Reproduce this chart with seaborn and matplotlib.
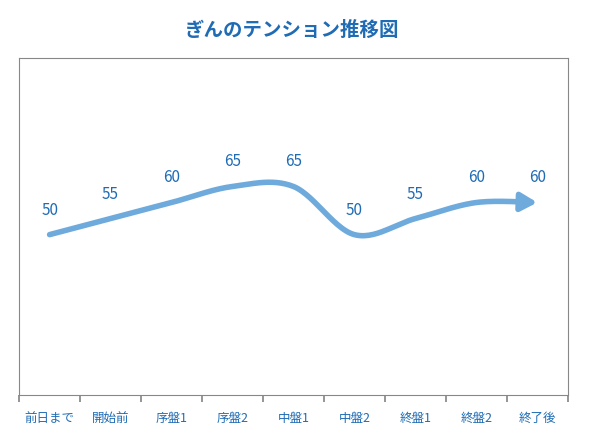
import matplotlib
matplotlib.use("Agg")
import matplotlib.pyplot as plt
import numpy as np
import seaborn as sns

stages = ["前日まで", "開始前", "序盤1", "序盤2", "中盤1", "中盤2", "終盤1", "終盤2", "終了後"]
tension = [50, 55, 60, 65, 65, 50, 55, 60, 60]

sns.set_theme(style="white")
plt.rcParams["font.family"] = ["Noto Sans CJK JP", "DejaVu Sans"]

LINE = "#6FAADC"
TEXT = "#1F6CB5"

fig = plt.figure(figsize=(5.97, 4.4), dpi=100)
ax = fig.add_axes([0.032, 0.102, 0.919, 0.766])

x = np.arange(len(stages)) + 0.5
y = np.array(tension, dtype=float)

# Catmull-Rom smoothing between the points
px = np.concatenate([[x[0]], x, [x[-1]]])
py = np.concatenate([[y[0]], y, [y[-1]]])
xs, ys = [], []
t = np.linspace(0, 1, 30)
for i in range(1, len(px) - 2):
    for arr, out in ((px, xs), (py, ys)):
        p0, p1, p2, p3 = arr[i - 1], arr[i], arr[i + 1], arr[i + 2]
        out.extend(0.5 * (2 * p1 + (-p0 + p2) * t + (2 * p0 - 5 * p1 + 4 * p2 - p3) * t**2
                          + (-p0 + 3 * p1 - 3 * p2 + p3) * t**3))
xs, ys = np.array(xs), np.array(ys)

sns.lineplot(x=xs[:-6], y=ys[:-6], ax=ax, color=LINE, linewidth=4, sort=False)
ax.annotate("", xy=(xs[-1], ys[-1]), xytext=(xs[-8], ys[-8]),
            arrowprops=dict(arrowstyle="-|>,head_length=0.8,head_width=0.45",
                            color=LINE, lw=4, shrinkA=0, shrinkB=0))

for xi, yi in zip(x, y):
    ax.text(xi, yi + 5, f"{int(yi)}", ha="center", va="bottom", color=TEXT, fontsize=11)

ax.set_xlim(0, len(stages))
ax.set_ylim(0, 105)
ax.set_yticks([])
ax.set_xticks(np.arange(len(stages) + 1))
ax.set_xticklabels([])
ax.set_xticks(x, minor=True)
ax.set_xticklabels(stages, minor=True, color=TEXT, fontsize=9)
ax.tick_params(axis="x", which="major", length=5, color="#888888", bottom=True)
ax.tick_params(axis="x", which="minor", length=0, pad=12)
for s in ax.spines.values():
    s.set_color("#888888")
    s.set_linewidth(0.8)

fig.text(0.49, 0.93, "ぎんのテンション推移図", ha="center", va="center",
         color=TEXT, fontsize=14, fontweight="bold")

fig.savefig("out.png", dpi=100, facecolor="white")
